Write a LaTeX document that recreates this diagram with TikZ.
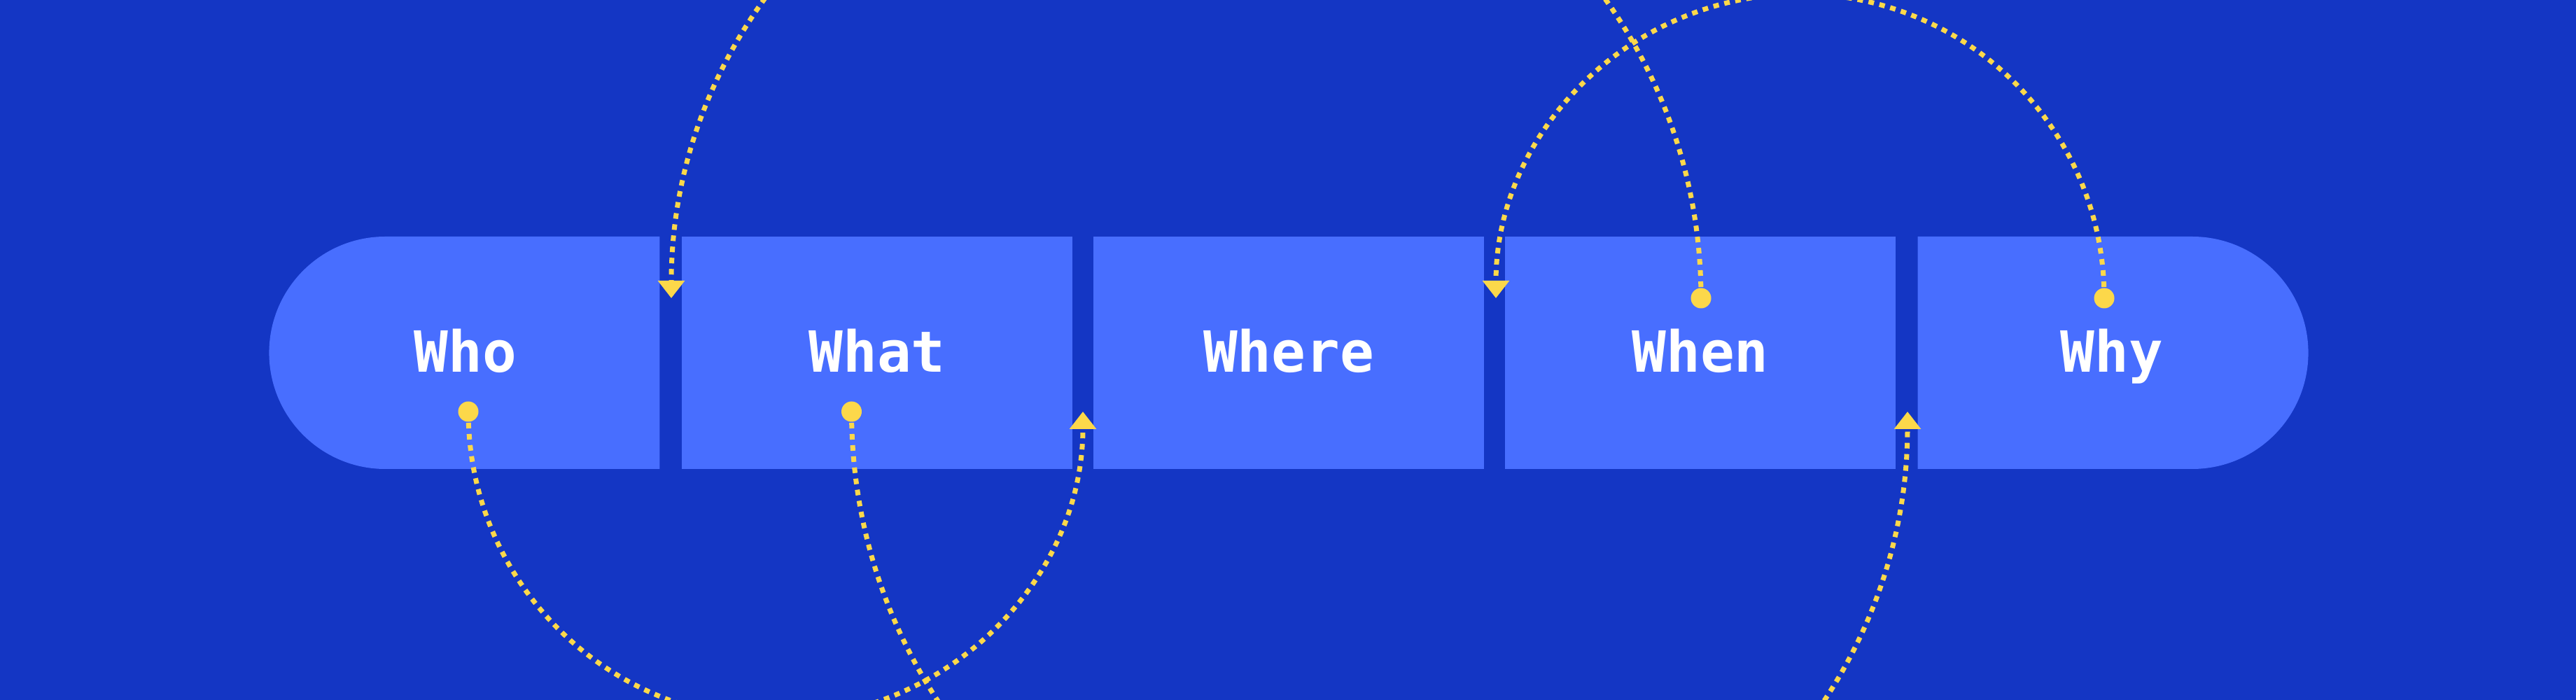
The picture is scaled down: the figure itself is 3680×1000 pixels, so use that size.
\documentclass[tikz,border=0pt]{standalone}
\usepackage{fontspec}
\setmonofont{DejaVu Sans Mono}
\usetikzlibrary{arrows.meta,shapes.misc}
\definecolor{bgblue}{RGB}{20,54,196}
\definecolor{boxblue}{RGB}{72,110,255}
\definecolor{dotyellow}{RGB}{252,216,74}
\begin{document}
\begin{tikzpicture}[x=1pt,y=1pt,
  cell/.style={fill=boxblue, draw=none, minimum width=558pt, minimum height=332pt,
    inner sep=0pt, outer sep=0pt, text=white, text height=60pt, text depth=4pt,
    font=\ttfamily\bfseries\fontsize{81}{81}\selectfont},
  pillL/.style={cell, rounded rectangle, rounded rectangle right arc=none},
  pillR/.style={cell, rounded rectangle, rounded rectangle left arc=none},
  dot/.style={circle, fill=dotyellow, minimum size=29pt, inner sep=0pt},
  link/.style={draw=dotyellow, line width=7pt, dash pattern=on 8pt off 8pt,
    -{Triangle[width=37pt,length=25pt]}}
]
\useasboundingbox (0,0) rectangle (3680,1000);
\fill[bgblue] (0,0) rectangle (3680,1000);
\clip (0,0) rectangle (3680,1000);

\node[pillL] (who) at (665,496) {Who};
\node[cell] (what) at (1253,496) {What};
\node[cell] (where) at (1841,496) {Where};
\node[cell] (when) at (2429,496) {When};
\node[pillR] (why) at (3017,496) {Why};

\coordinate (dWhenP) at (2430,574);
\coordinate (dWhyP) at (3006,574);
\coordinate (dWhoP) at (669,412);
\coordinate (dWhatP) at (1216.5,412);

\draw[link] (dWhenP) arc[start angle=0, end angle=180, radius=735.5] coordinate (g1);
\draw[link] (dWhyP) arc[start angle=0, end angle=180, radius=434.5] coordinate (g3);
\draw[link] (dWhoP) arc[start angle=180, end angle=360, radius=439] coordinate (g2);
\draw[link] (dWhatP) arc[start angle=180, end angle=360, radius=754.25] coordinate (g4);

\node[dot] (dWhen) at (dWhenP) {};
\node[dot] (dWhy) at (dWhyP) {};
\node[dot] (dWho) at (dWhoP) {};
\node[dot] (dWhat) at (dWhatP) {};
\end{tikzpicture}
\end{document}
